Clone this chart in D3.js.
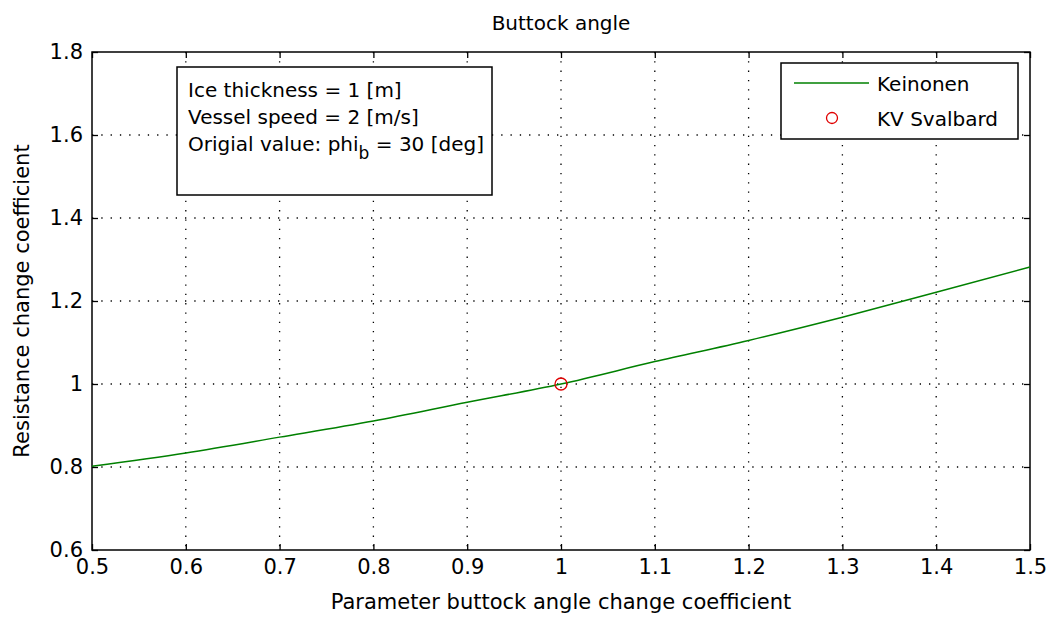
<!DOCTYPE html>
<html>
<head>
<meta charset="utf-8">
<style>
    body { margin: 0; background: #fff; }
    svg text { font-family: "DejaVu Sans", "Liberation Sans", Arial, sans-serif; fill: #000; }
    .grid line { stroke: #000; stroke-width: 1.3px; stroke-dasharray: 1.3 8; }
    .curve { fill: none; stroke: #008000; stroke-width: 1.5px; }
</style>
</head>
<body>
<div id="chart"></div>
<script src="https://cdn.jsdelivr.net/npm/d3@7"></script>
<script>
// data
var coefX = [0.5, 0.6, 0.7, 0.8, 0.9, 1.0, 1.1, 1.2, 1.3, 1.4, 1.5];
var keinonen = [0.802, 0.834, 0.872, 0.911, 0.956, 1.0, 1.054, 1.105, 1.161, 1.221, 1.282];
var svalbard = [[1.0, 1.0]];
var xTicks = [0.5, 0.6, 0.7, 0.8, 0.9, 1, 1.1, 1.2, 1.3, 1.4, 1.5];
var yTicks = [0.6, 0.8, 1, 1.2, 1.4, 1.6, 1.8];
var infoLines = ["Ice thickness = 1 [m]", "Vessel speed = 2 [m/s]", "Origial value: phi"];
var legendLabels = ["Keinonen", "KV Svalbard"];

const W = 1050, H = 618;
const margin = { top: 52, right: 20, bottom: 68, left: 92 };
const width = W - margin.left - margin.right;
const height = H - margin.top - margin.bottom;
const fs = "21px";

const svg = d3.select("#chart").append("svg")
    .attr("width", W).attr("height", H);

const g = svg.append("g").attr("transform", "translate(" + margin.left + "," + margin.top + ")");

var x = d3.scaleLinear().domain([0.5, 1.5]).range([0, width]);
var y = d3.scaleLinear().domain([0.6, 1.8]).range([height, 0]);

// grid
g.append("g").attr("class", "grid")
    .selectAll("line").data(xTicks.slice(1, -1)).enter().append("line")
    .attr("x1", d => x(d)).attr("x2", d => x(d)).attr("y1", 0).attr("y2", height);
g.append("g").attr("class", "grid")
    .selectAll("line").data(yTicks.slice(1, -1)).enter().append("line")
    .attr("y1", d => y(d)).attr("y2", d => y(d)).attr("x1", 0).attr("x2", width);

// axes, ticks inside
function styleAxis(sel) {
    sel.attr("font-family", null).attr("font-size", null);
    sel.select(".domain").remove();
    sel.selectAll(".tick line").attr("stroke", "#000").attr("stroke-width", 1.3);
    sel.selectAll(".tick text").style("font-size", fs);
}
g.append("g").attr("transform", "translate(0," + height + ")")
    .call(d3.axisBottom(x).tickValues(xTicks).tickSize(-6).tickPadding(9).tickFormat(d3.format("")))
    .call(styleAxis);
g.append("g")
    .call(d3.axisTop(x).tickValues(xTicks).tickSize(-6).tickFormat(""))
    .call(styleAxis);
g.append("g")
    .call(d3.axisLeft(y).tickValues(yTicks).tickSize(-6).tickPadding(9).tickFormat(d3.format("")))
    .call(styleAxis);
g.append("g").attr("transform", "translate(" + width + ",0)")
    .call(d3.axisRight(y).tickValues(yTicks).tickSize(-6).tickFormat(""))
    .call(styleAxis);

g.append("rect").attr("width", width).attr("height", height)
    .attr("fill", "none").attr("stroke", "#000").attr("stroke-width", 1.5);

// curve
var line = d3.line().curve(d3.curveMonotoneX)
    .x((d, i) => x(coefX[i])).y(d => y(d));
g.append("path").datum(keinonen).attr("class", "curve").attr("d", line);

g.selectAll(".pt").data(svalbard).enter().append("circle")
    .attr("cx", d => x(d[0])).attr("cy", d => y(d[1])).attr("r", 6)
    .attr("fill", "none").attr("stroke", "#e00000").attr("stroke-width", 1.3);

// info box
var info = g.append("g").attr("transform", "translate(85,15)");
info.append("rect").attr("width", 315).attr("height", 128)
    .attr("fill", "#fff").attr("stroke", "#000").attr("stroke-width", 1.5);
info.selectAll("text.line").data(infoLines).enter().append("text")
    .attr("class", "line")
    .attr("x", 11).attr("y", (d, i) => 30 + i * 27)
    .style("font-size", "20px")
    .each(function (d, i) {
        var t = d3.select(this);
        t.append("tspan").text(d);
        if (i === 2) {
            t.append("tspan").attr("dy", 8).style("font-size", "17px").text("b");
            t.append("tspan").attr("dy", -8).text(" = 30 [deg]");
        }
    });

// legend
var leg = g.append("g").attr("transform", "translate(689,11)");
leg.append("rect").attr("width", 237).attr("height", 76)
    .attr("fill", "#fff").attr("stroke", "#000").attr("stroke-width", 1.5);
leg.append("line").attr("x1", 13).attr("x2", 88).attr("y1", 20).attr("y2", 20)
    .attr("class", "curve");
leg.append("circle").attr("cx", 51).attr("cy", 55).attr("r", 5.5)
    .attr("fill", "none").attr("stroke", "#e00000").attr("stroke-width", 1.3);
leg.selectAll("text").data(legendLabels).enter().append("text")
    .attr("x", 96).attr("y", (d, i) => 28 + i * 35)
    .style("font-size", "20px").text(d => d);

// titles
svg.append("text").attr("x", margin.left + width / 2).attr("y", 30)
    .attr("text-anchor", "middle").style("font-size", "20px").text("Buttock angle");
svg.append("text").attr("x", margin.left + width / 2).attr("y", 609)
    .attr("text-anchor", "middle").style("font-size", fs)
    .text("Parameter buttock angle change coefficient");
svg.append("text")
    .attr("transform", "translate(29," + (margin.top + height / 2) + ") rotate(-90)")
    .attr("text-anchor", "middle").style("font-size", fs)
    .text("Resistance change coefficient");
</script>
</body>
</html>
